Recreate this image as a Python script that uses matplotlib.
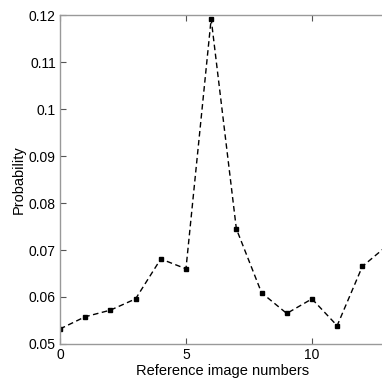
import numpy as np
import matplotlib
matplotlib.use("Agg")
import matplotlib.pyplot as plt

# reference image index and matching probability
image_numbers = [0, 1, 2, 3, 4, 5, 6, 7, 8, 9, 10, 11, 12, 13]
probability = [0.0532, 0.0558, 0.0572, 0.0596, 0.0681, 0.0660, 0.1192,
               0.0745, 0.0609, 0.0565, 0.0596, 0.0539, 0.0665, 0.0710]

x_ticks = [0, 5, 10]
y_ticks = [0.05, 0.06, 0.07, 0.08, 0.09, 0.1, 0.11, 0.12]
y_tick_labels = ["0.05", "0.06", "0.07", "0.08", "0.09", "0.1", "0.11", "0.12"]

plt.rcParams['font.family'] = ['Liberation Sans', 'DejaVu Sans']

fig = plt.figure(figsize=(3.82, 3.85), dpi=100)
# axes run past the right edge of the figure (picture was cropped there)
ax = fig.add_axes([0.157, 0.1065, 0.85, 0.8545])

ax.plot(image_numbers, probability, linestyle=(0, (4, 2.5)), color="black",
        linewidth=1.0, marker="s", markersize=3.5)

ax.set_xlim(0, 12.78 * 0.85 / 0.843)
ax.set_ylim(0.05, 0.12)
ax.set_xticks(x_ticks)
ax.set_yticks(y_ticks)
ax.set_yticklabels(y_tick_labels)

ax.tick_params(direction="in", length=4, width=0.8, color="#555555",
               labelsize=10, top=True, right=False, pad=3)
ax.spines["right"].set_visible(False)
for s in ax.spines.values():
    s.set_color("#999999")
    s.set_linewidth(1.0)

ax.set_xlabel("Reference image numbers", fontsize=10.5, labelpad=1)
ax.set_ylabel("Probability", fontsize=10.5, labelpad=2)

plt.savefig("out.png", dpi=100)
